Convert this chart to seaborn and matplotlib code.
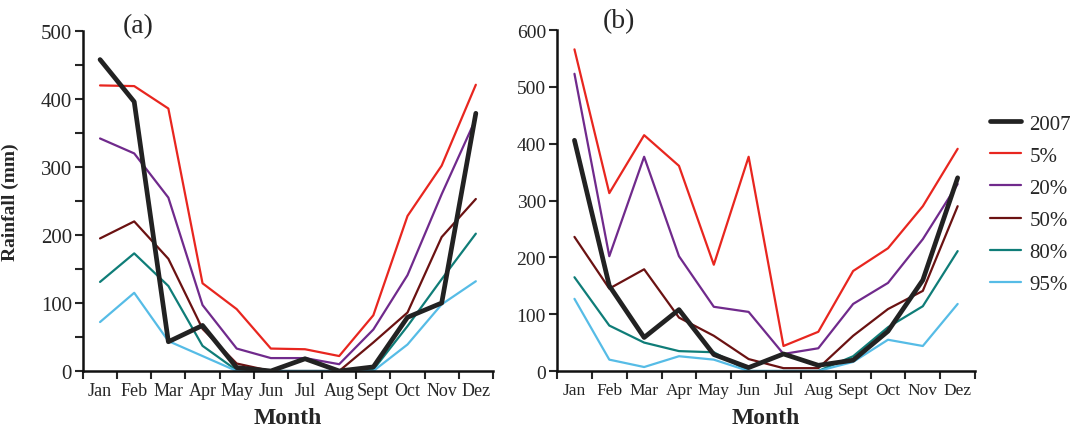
import numpy as np
import pandas as pd
import seaborn as sns
import matplotlib
matplotlib.use("Agg")
import matplotlib.pyplot as plt
from matplotlib.ticker import MultipleLocator, FixedLocator

months = ['Jan', 'Feb', 'Mar', 'Apr', 'May', 'Jun', 'Jul', 'Aug', 'Sept', 'Oct', 'Nov', 'Dez']
series_names = ['2007', '5%', '20%', '50%', '80%', '95%']

# panel (a) values, mm
a_2007 = [458, 396, 43, 67, 5, 0, 18, 0, 6, 79, 100, 379]
a_p5 = [420, 419, 386, 129, 91, 33, 32, 22, 82, 228, 302, 421]
a_p20 = [342, 320, 255, 97, 33, 19, 19, 10, 61, 141, 260, 371]
a_p50 = [195, 220, 165, 62, 11, 0, 0, 0, 42, 86, 197, 253]
a_p80 = [131, 173, 125, 37, 1, 0, 0, 0, 2, 66, 135, 202]
a_p95 = [72, 115, 44, 22, 0, 0, 0, 0, 0, 39, 98, 132]

# panel (b) values, mm
b_2007 = [406, 150, 59, 108, 29, 6, 30, 10, 19, 70, 160, 340]
b_p5 = [566, 313, 415, 361, 187, 377, 44, 69, 176, 216, 290, 391]
b_p20 = [523, 202, 377, 202, 113, 104, 30, 40, 118, 155, 232, 329]
b_p50 = [236, 145, 179, 94, 62, 21, 5, 5, 62, 109, 141, 290]
b_p80 = [165, 80, 50, 35, 33, 0, 0, 0, 26, 77, 114, 211]
b_p95 = [127, 20, 7, 26, 20, 0, 0, 0, 16, 55, 44, 118]

colors = {'2007': '#222222', '5%': '#e8261f', '20%': '#702a8c',
          '50%': '#6b1212', '80%': '#0f7d78', '95%': '#56bce6'}
widths = {'2007': 3.4, '5%': 1.6, '20%': 1.6, '50%': 1.6, '80%': 1.6, '95%': 1.6}


def to_long(values):
    rows = []
    for name, vals in zip(series_names, values):
        for i, v in enumerate(vals):
            rows.append({'pos': i, 'Month': months[i], 'Rainfall': v, 'series': name})
    return pd.DataFrame(rows)


df_a = to_long([a_2007, a_p5, a_p20, a_p50, a_p80, a_p95])
df_b = to_long([b_2007, b_p5, b_p20, b_p50, b_p80, b_p95])

sns.set_style("ticks")
plt.rcParams['font.family'] = ['Liberation Serif', 'DejaVu Serif']

fig = plt.figure(figsize=(10.76, 4.27), dpi=100)
ax_a = fig.add_axes([0.0771, 0.1288, 0.3810, 0.7962])
ax_b = fig.add_axes([0.5177, 0.1288, 0.3885, 0.7985])


def draw(ax, df, ymax, ylab_size, xlab_size):
    # percentiles first, 2007 drawn on top
    for name in series_names[1:] + series_names[:1]:
        sub = df[df['series'] == name]
        sns.lineplot(data=sub, x='pos', y='Rainfall', ax=ax, color=colors[name],
                     linewidth=widths[name], legend=False, zorder=3 if name == '2007' else 2)
    ax.set_xlim(-0.5, 11.5)
    ax.set_ylim(0, ymax)
    ax.xaxis.set_major_locator(FixedLocator(np.arange(-0.5, 12, 1)))
    ax.xaxis.set_minor_locator(FixedLocator(np.arange(12)))
    ax.set_xticklabels([])
    ax.set_xticklabels(months, minor=True, fontsize=xlab_size)
    ax.tick_params(axis='x', which='major', direction='out', length=6, width=1.5)
    ax.tick_params(axis='x', which='minor', length=0, pad=8)
    ax.yaxis.set_major_locator(MultipleLocator(100))
    ax.tick_params(axis='y', which='both', direction='out', length=6, width=1.5, labelsize=ylab_size, pad=2)
    for s in ['left', 'bottom']:
        ax.spines[s].set_linewidth(1.8)
        ax.spines[s].set_color('#111111')
    sns.despine(ax=ax)
    ax.set_xlabel('Month', fontsize=17, fontweight='bold')
    ax.xaxis.set_label_coords(0.5, -0.105)
    ax.set_ylabel('')


draw(ax_a, df_a, 500, 15, 13)
ax_a.yaxis.set_minor_locator(MultipleLocator(50))
ax_a.set_ylabel('Rainfall (mm)', fontsize=14, fontweight='bold')
ax_a.yaxis.set_label_coords(-0.155, 0.5)

draw(ax_b, df_b, 600, 14, 12.5)

fig.text(138 / 1076, 1 - 27 / 427, '(a)', fontsize=20, ha='center', va='center')
fig.text(619 / 1076, 1 - 22 / 427, '(b)', fontsize=20, ha='center', va='center')

handles = [plt.Line2D([], [], color=colors[n], linewidth=widths[n]) for n in series_names]
fig.legend(handles, series_names, loc='upper left', bbox_to_anchor=(990 / 1076, 1 - 115 / 427),
           frameon=False, fontsize=15, handlelength=1.5, handletextpad=0.4,
           labelspacing=0.6, borderpad=0, borderaxespad=0)

fig.savefig('out.png', dpi=100)
